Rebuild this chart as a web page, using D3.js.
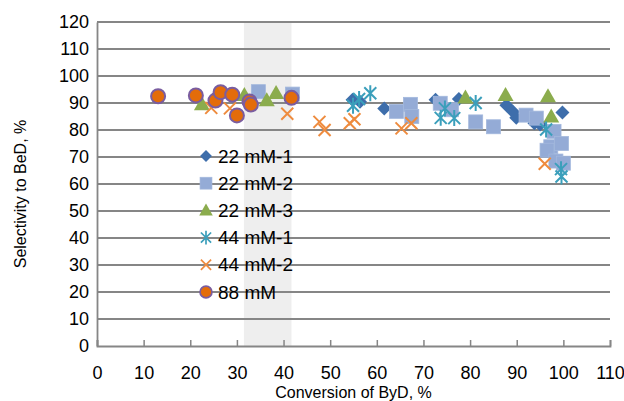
<!DOCTYPE html>
<html>
<head>
<meta charset="utf-8">
<script src="https://cdn.jsdelivr.net/npm/d3@7"></script>
<style>
body { margin: 0; background: #fff; }
text { font-family: "Liberation Sans", Arial, sans-serif; fill: #000; }
</style>
</head>
<body>
<div id="scatter_chart"></div>
<script>
//DATA: [conversion, selectivity]
var mm22_1 = [[54.8,91.2],[56.4,90.5],[61.6,88],[72.6,91.2],[77.6,91.5],[87.8,89.2],[89.2,86.8],[89.9,84.5],[93.8,82.5],[95,82],[99.8,86.5]];
var mm22_2 = [[34.6,94.2],[41.9,93.3],[64.2,86.9],[67.2,89.5],[67.5,85],[73.6,89.9],[76,87.5],[81.2,83],[85,81.2],[92,85.5],[94.2,84.4],[98,79.5],[97.3,73.8],[96.5,72.5],[99.6,75],[98.4,68.5],[100,67.7]];
var mm22_3 = [[22.5,89.5],[31.6,93],[36.4,91],[38.4,93.7],[79,92],[87.6,93],[96.7,92.5],[97.4,85]];
var mm44_1 = [[54.9,89],[56.2,91.5],[58.6,93.6],[73.7,84.5],[74.6,88],[76.6,84.4],[81.2,90],[96.3,80.2],[99.5,65.5],[99.6,62.8]];
var mm44_2 = [[24.5,88.2],[28.5,88],[40.8,86],[47.7,83],[48.8,80],[54.2,82.5],[55.2,84],[65.3,80.6],[67.4,82.5],[96,67.5]];
var mm88 = [[13.1,92.5],[21.2,92.8],[25.4,90.9],[26.5,94],[29,93.1],[30,85.4],[32.7,90.6],[33,89.4],[41.7,91.9]];

var seriesNames = ["22 mM-1", "22 mM-2", "22 mM-3", "44 mM-1", "44 mM-2", "88 mM"];
var seriesData = [mm22_1, mm22_2, mm22_3, mm44_1, mm44_2, mm88];
var band = [31.5, 41.7];
var xTicks = [0, 10, 20, 30, 40, 50, 60, 70, 80, 90, 100, 110];
var yTicks = [0, 10, 20, 30, 40, 50, 60, 70, 80, 90, 100, 110, 120];

var svgContainer = d3.select("#scatter_chart").append("svg")
  .attr("width", 624)
  .attr("height", 401);

//PLOT AREA
var margin = {top: 22, right: 14, bottom: 55, left: 97};
var width = 624 - margin.left - margin.right,
    height = 401 - margin.top - margin.bottom;

var xScale = d3.scaleLinear().domain([0, 110]).range([0, width]);
var yScale = d3.scaleLinear().domain([0, 120]).range([height, 0]);

var plot = svgContainer.append("g")
  .attr("transform", `translate(${margin.left}, ${margin.top})`);

//SHADED BAND
plot.append("rect")
  .attr("x", xScale(band[0]))
  .attr("y", 0)
  .attr("width", xScale(band[1]) - xScale(band[0]))
  .attr("height", height)
  .attr("fill", "#eeeeee");

//GRIDLINES
plot.selectAll(".grid")
  .data(yTicks.filter(function(d) { return d > 0; }))
  .enter().append("line")
  .attr("x1", 0)
  .attr("x2", width)
  .attr("y1", function(d) { return yScale(d); })
  .attr("y2", function(d) { return yScale(d); })
  .attr("stroke", "#868686")
  .attr("stroke-width", 1.8);

//AXES
var xAxis = d3.axisBottom(xScale).tickValues(xTicks).tickSize(-6).tickPadding(20);
var yAxis = d3.axisLeft(yScale).tickValues(yTicks).tickSize(0).tickPadding(8);

var gx = plot.append("g")
  .attr("transform", `translate(0, ${height})`)
  .call(xAxis);
var gy = plot.append("g").call(yAxis);

[gx, gy].forEach(function(g) {
  g.select(".domain").attr("stroke", "#868686").attr("stroke-width", 1.8);
  g.selectAll(".tick line").attr("stroke", "#868686").attr("stroke-width", 1.5);
  g.selectAll("text")
    .style("font-family", "Liberation Sans, Arial, sans-serif")
    .style("font-size", "18px")
    .attr("fill", "#000");
});

//AXIS TITLES
svgContainer.append("text")
  .attr("transform", `translate(${margin.left + width / 2}, 398)`)
  .style("text-anchor", "middle")
  .style("font-size", "16px")
  .text("Conversion of ByD, %");

svgContainer.append("text")
  .attr("transform", `translate(26, ${margin.top + height / 2 + 10}) rotate(-90)`)
  .style("text-anchor", "middle")
  .style("font-size", "16px")
  .text("Selectivity to BeD, %");

//MARKERS
function drawMarker(sel, i) {
  if (i === 0) {
    sel.append("path").attr("d", "M0,-7L7,0L0,7L-7,0Z").attr("fill", "#3e6eab");
  } else if (i === 1) {
    sel.append("rect").attr("x", -7).attr("y", -7).attr("width", 14).attr("height", 14)
      .attr("fill", "#94abd6").attr("stroke", "#a3b8dd").attr("stroke-width", 0.8);
  } else if (i === 2) {
    sel.append("path").attr("d", "M0,-8L8,6L-8,6Z").attr("fill", "#8bac4d");
  } else if (i === 3) {
    sel.append("path").attr("d", "M0,-8V8M-6,-6L6,6M-6,6L6,-6")
      .attr("stroke", "#3b9fbb").attr("stroke-width", 2).attr("fill", "none");
  } else if (i === 4) {
    sel.append("path").attr("d", "M-6,-6L6,6M-6,6L6,-6")
      .attr("stroke", "#ee8b3e").attr("stroke-width", 2).attr("fill", "none");
  } else {
    sel.append("circle").attr("r", 7).attr("fill", "#e36c0a")
      .attr("stroke", "#7a5da0").attr("stroke-width", 2);
  }
}

seriesData.forEach(function(data, i) {
  plot.append("g").selectAll("g")
    .data(data)
    .enter().append("g")
    .attr("transform", function(d) { return `translate(${xScale(d[0])}, ${yScale(d[1])})`; })
    .each(function() { drawMarker(d3.select(this), i); });
});

//LEGEND
var legend = svgContainer.append("g");
seriesNames.forEach(function(name, i) {
  var row = legend.append("g")
    .attr("transform", `translate(206, ${156 + i * 27.2})`);
  drawMarker(row.append("g").attr("transform", "scale(0.85)"), i);
  row.append("text")
    .attr("x", 12)
    .attr("y", 6.5)
    .style("font-size", "19px")
    .text(name);
});
</script>
</body>
</html>
